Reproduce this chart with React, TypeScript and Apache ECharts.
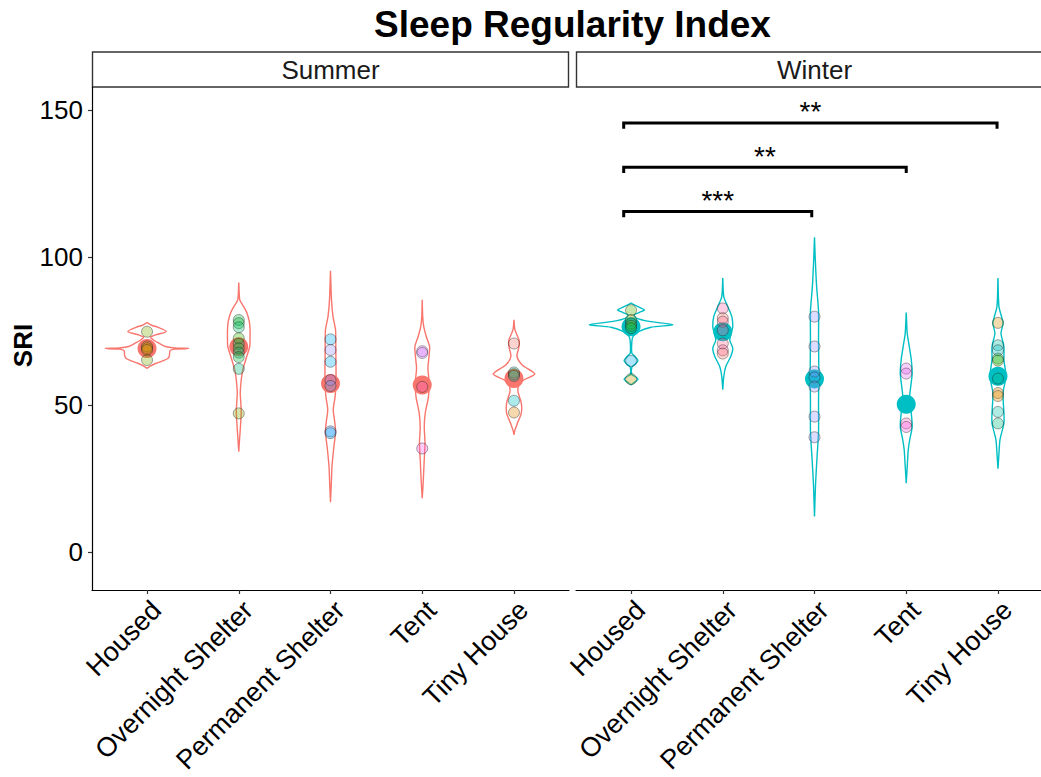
import React, { useEffect, useRef } from "react";
import * as echarts from "echarts";

// ---------- data ----------
const categories = ["Housed", "Overnight Shelter", "Permanent Shelter", "Tent", "Tiny House"];
const facets = ["Summer", "Winter"];
const yTicks = [0, 50, 100, 150];

// violin outlines: [SRI value, half-width in category units]
const summerViolins: number[][][] = [
  [[77.9,0],[77.0,0.05],[76.3,0.12],[74.9,0.21],[73.7,0.09],[72.9,0.036],[72.0,0.07],[70.9,0.13],[69.8,0.2],[69.3,0.3],[69.1,0.455],[68.9,0.3],[68.4,0.25],[66.9,0.245],[65.8,0.23],[64.9,0.17],[64.1,0.1],[63.2,0.04],[62.4,0]],
  [[91.5,0],[85.6,0.011],[83.5,0.05],[81.1,0.09],[78.2,0.115],[75.4,0.123],[72.6,0.123],[69.8,0.12],[66.4,0.087],[61.9,0.044],[58.5,0.027],[54.0,0.016],[50.8,0.022],[47.7,0.027],[44.5,0.022],[41.5,0.016],[38.0,0.008],[34.1,0]],
  [[95.5,0],[85.6,0.011],[80.0,0.027],[75.4,0.055],[68.6,0.058],[63.0,0.06],[57.3,0.06],[52.8,0.05],[48.3,0.03],[44.5,0.045],[40.9,0.055],[34.7,0.033],[29.0,0.016],[23.4,0.009],[17.0,0]],
  [[85.6,0],[80.0,0.005],[76.6,0.016],[73.2,0.044],[69.8,0.08],[66.4,0.074],[62.4,0.062],[57.3,0.076],[52.8,0.068],[47.2,0.033],[42.6,0.022],[37.0,0.03],[30.2,0.02],[23.4,0.01],[18.3,0]],
  [[78.8,0],[75.4,0.011],[72.0,0.055],[69.8,0.055],[66.4,0.033],[63.6,0.087],[60.5,0.227],[58.5,0.11],[56.8,0.055],[54.5,0.044],[50.6,0.08],[47.2,0.08],[43.8,0.038],[41.5,0.011],[39.8,0]],
];
const winterViolins: number[][][] = [
  [[84.5,0],[83.1,0.087],[82.2,0.147],[81.3,0.087],[80.4,0.033],[79.4,0.055],[78.3,0.196],[77.2,0.455],[76.3,0.218],[74.9,0.087],[73.2,0.022],[71.5,0.009],[67.5,0.009],[66.4,0.044],[65.0,0.076],[63.7,0.044],[62.8,0.009],[60.2,0.009],[59.6,0.044],[58.7,0.076],[57.8,0.044],[56.8,0]],
  [[93.0,0],[86.7,0.011],[83.3,0.055],[80.0,0.098],[76.6,0.109],[74.3,0.093],[72.0,0.076],[69.2,0.109],[66.4,0.087],[63.0,0.033],[59.6,0.011],[55.1,0]],
  [[106.8,0],[99.8,0.008],[90.7,0.022],[81.6,0.044],[71.5,0.044],[61.3,0.047],[51.1,0.044],[40.9,0.044],[31.9,0.027],[22.8,0.011],[12.1,0]],
  [[81.3,0],[74.3,0.011],[69.8,0.033],[65.3,0.055],[60.7,0.065],[56.2,0.049],[52.8,0.038],[47.2,0.055],[42.6,0.065],[38.1,0.038],[34.7,0.022],[29.1,0.011],[23.4,0]],
  [[93.0,0],[83.3,0.011],[77.7,0.055],[74.3,0.033],[69.8,0.065],[65.3,0.065],[59.6,0.087],[54.0,0.055],[47.2,0.065],[43.8,0.065],[38.1,0.022],[33.6,0.011],[28.3,0]],
];

// individual observations: [category index, SRI]
const summerPoints: number[][] = [
  [0,74.8],[0,69.8],[0,69.2],[0,68.6],[0,65.2],
  [1,78.8],[1,77.7],[1,76.3],[1,72.6],[1,70.7],[1,69.2],[1,67.7],[1,66.2],[1,62.2],[1,47.1],
  [2,72.2],[2,68.6],[2,64.6],[2,58.4],[2,56.4],[2,41.0],[2,40.4],
  [3,68.2],[3,67.6],[3,56.1],[3,35.2],
  [4,70.8],[4,61.0],[4,60.4],[4,59.8],[4,51.4],[4,47.4],
];
const summerPointColors = [
  "#7CAE00","#C49A00","#A3A500","#D89000","#7CAE00",
  "#00BA38","#00BA38","#00BE67","#39B600","#00BE67","#00BA38","#00C08B","#00BA38","#00BF7D","#7CAE00",
  "#00B0F6","#9590FF","#00B0F6","#9590FF","#619CFF","#619CFF","#00A9FF",
  "#E76BF3","#C77CFF","#FF61C3","#F564E3",
  "#F8766D","#00C1A9","#E58700","#00BFC4","#00BFC4","#E58700",
];
const winterPoints: number[][] = [
  [0,82.1],[0,78.8],[0,77.6],[0,76.8],[0,76.0],[0,64.9],[0,58.7],
  [1,82.7],[1,79.4],[1,78.2],[1,75.3],[1,70.8],[1,68.5],[1,67.4],
  [2,79.9],[2,69.8],[2,61.3],[2,59.3],[2,56.2],[2,46.0],[2,39.0],
  [3,62.3],[3,60.6],[3,43.7],[3,42.5],
  [4,77.8],[4,70.2],[4,68.5],[4,65.7],[4,65.0],[4,58.9],[4,54.0],[4,53.0],[4,47.6],[4,43.7],
];
const winterPointColors = [
  "#53B400","#A3A500","#00C08B","#7CAE00","#00BA38","#00B0F6","#C49A00",
  "#FF67A4","#F8766D","#FF6C91","#FF67A4","#FF6C91","#FF67A4","#F8766D",
  "#9590FF","#9590FF","#9590FF","#619CFF","#9590FF","#9590FF","#9590FF",
  "#E76BF3","#E76BF3","#FF61C3","#F564E3",
  "#D89000","#00C1A9","#00BFC4","#00BA38","#39B600","#00C08B","#E58700","#D89000","#00C1A9","#00BF7D",
];

const summerMeans = [69.1, 69.7, 57.2, 56.7, 58.9];
const winterMeans = [76.5, 74.8, 58.8, 50.2, 59.7];

// significance brackets (Winter): [from, to, height]
const brackets = [[-0.08, 1.97, 115.6], [-0.08, 3.0, 130.6], [-0.08, 3.99, 145.6]];
const bracketLabels = ["***", "**", "**"];

// ---------- style / layout ----------
const FONT = '"Liberation Sans", Arial, Helvetica, sans-serif';
const facetColors = ["#F8766D", "#00BFC4"];
const PANEL_TOP = 87;
const PANEL_H = 503;
const PANEL_W = 477;
const PANEL_LEFTS = [92, 576];
const STRIP_TOP = 52;
const Y_MIN = -12.8;
const Y_MAX = 157.8;

function rgba(hex: string, a: number) {
  const n = parseInt(hex.slice(1), 16);
  return `rgba(${(n >> 16) & 255},${(n >> 8) & 255},${n & 255},${a})`;
}

export default function App() {
  const ref = useRef<HTMLDivElement>(null);
  useEffect(() => {
    document.body.style.margin = "0";
    const chart = echarts.init(ref.current!, null, { renderer: "svg" });

    const violinSeries = (profiles: number[][][], gi: number) => ({
      type: "custom",
      xAxisIndex: gi,
      yAxisIndex: gi,
      z: 1,
      silent: true,
      data: profiles.map((p, i) => [i, p[0][0]]),
      encode: { x: 0, y: 1 },
      renderItem: (params: any, api: any) => {
        const i = params.dataIndex;
        const prof = profiles[i];
        const right = prof.map(([v, w]) => api.coord([i + w, v]));
        const left = prof.slice().reverse().map(([v, w]) => api.coord([i - w, v]));
        return {
          type: "polygon",
          shape: { points: right.concat(left), smooth: 0.25 },
          style: { fill: "none", stroke: facetColors[gi], lineWidth: 1.4 },
        };
      },
    });

    const meanSeries = (means: number[], gi: number) => ({
      type: "scatter",
      xAxisIndex: gi,
      yAxisIndex: gi,
      z: 2,
      symbolSize: 19,
      itemStyle: { color: facetColors[gi], opacity: 1 },
      data: means.map((m, i) => [i, m]),
    });

    const pointSeries = (pts: number[][], cols: string[], gi: number) => ({
      type: "scatter",
      xAxisIndex: gi,
      yAxisIndex: gi,
      z: 3,
      symbolSize: 11,
      data: pts.map((p, k) => ({
        value: p,
        itemStyle: { color: rgba(cols[k], 0.4), borderColor: "rgba(30,30,30,0.5)", borderWidth: 1 },
      })),
    });

    const bracketSeries = {
      type: "custom",
      xAxisIndex: 1,
      yAxisIndex: 1,
      z: 4,
      silent: true,
      data: brackets,
      encode: { x: [0, 1], y: 2 },
      renderItem: (params: any, api: any) => {
        const x1 = api.value(0), x2 = api.value(1), y = api.value(2);
        const p1 = api.coord([x1, y]);
        const p2 = api.coord([x2, y]);
        const tipY = api.coord([x1, y - 2])[1];
        return {
          type: "group",
          children: [
            {
              type: "polyline",
              shape: { points: [[p1[0], tipY], [p1[0], p1[1]], [p2[0], p2[1]], [p2[0], tipY]] },
              style: { stroke: "#000", lineWidth: 3, fill: "none" },
            },
            {
              type: "text",
              x: (p1[0] + p2[0]) / 2,
              y: p1[1] - 11,
              style: {
                text: bracketLabels[params.dataIndex],
                fill: "#000",
                font: `28px ${FONT}`,
                align: "center",
                verticalAlign: "middle",
              },
            },
          ],
        };
      },
    };

    const xAxes = [0, 1].map((gi) => ({
      type: "value",
      gridIndex: gi,
      min: -0.6,
      max: 4.6,
      splitLine: { show: false },
      axisLine: { show: true, onZero: false, lineStyle: { color: "#000", width: 1.2 } },
      axisTick: { show: true, customValues: [0, 1, 2, 3, 4], length: 4, lineStyle: { color: "#333", width: 1.2 } },
      axisLabel: {
        customValues: [0, 1, 2, 3, 4],
        formatter: (v: number) => categories[Math.round(v)],
        rotate: 45,
        align: "right",
        verticalAlign: "top",
        fontSize: 27,
        fontFamily: FONT,
        color: "#000",
        margin: 6,
      },
    }));

    const yAxes = [
      {
        type: "value",
        gridIndex: 0,
        min: Y_MIN,
        max: Y_MAX,
        splitLine: { show: false },
        axisLine: { show: true, onZero: false, lineStyle: { color: "#000", width: 1.2 } },
        axisTick: { show: true, customValues: yTicks, length: 4, lineStyle: { color: "#333", width: 1.2 } },
        axisLabel: { customValues: yTicks, fontSize: 26, fontFamily: FONT, color: "#000", margin: 9 },
        name: "SRI",
        nameLocation: "middle",
        nameRotate: 90,
        nameGap: 56,
        nameTextStyle: { fontSize: 26, fontWeight: "bold", fontFamily: FONT, color: "#000", padding: [0, 14, 0, 0] },
      },
      { type: "value", gridIndex: 1, min: Y_MIN, max: Y_MAX, show: false, splitLine: { show: false } },
    ];

    const panelsCenter = (PANEL_LEFTS[0] + PANEL_LEFTS[1] + PANEL_W) / 2;
    const graphics: any[] = [
      {
        type: "text",
        x: panelsCenter,
        y: 24,
        style: { text: "Sleep Regularity Index", font: `bold 37px ${FONT}`, fill: "#000", align: "center", verticalAlign: "middle" },
      },
    ];
    facets.forEach((f, gi) => {
      graphics.push({
        type: "rect",
        shape: { x: PANEL_LEFTS[gi] + 0.5, y: STRIP_TOP, width: PANEL_W - 1, height: PANEL_TOP - STRIP_TOP },
        style: { fill: "#fff", stroke: "#333", lineWidth: 1.4 },
      });
      graphics.push({
        type: "text",
        x: PANEL_LEFTS[gi] + PANEL_W / 2,
        y: (STRIP_TOP + PANEL_TOP) / 2,
        style: { text: f, font: `26px ${FONT}`, fill: "#1a1a1a", align: "center", verticalAlign: "middle" },
      });
    });

    chart.setOption({
      animation: false,
      backgroundColor: "#fff",
      grid: PANEL_LEFTS.map((l) => ({ left: l, top: PANEL_TOP, width: PANEL_W, height: PANEL_H, outerBoundsMode: "none", containLabel: false })),
      xAxis: xAxes,
      yAxis: yAxes,
      graphic: graphics,
      series: [
        violinSeries(summerViolins, 0),
        violinSeries(winterViolins, 1),
        meanSeries(summerMeans, 0),
        meanSeries(winterMeans, 1),
        pointSeries(summerPoints, summerPointColors, 0),
        pointSeries(winterPoints, winterPointColors, 1),
        bracketSeries,
      ],
    });
    return () => chart.dispose();
  }, []);
  return <div ref={ref} style={{ width: 1041, height: 777 }} />;
}
